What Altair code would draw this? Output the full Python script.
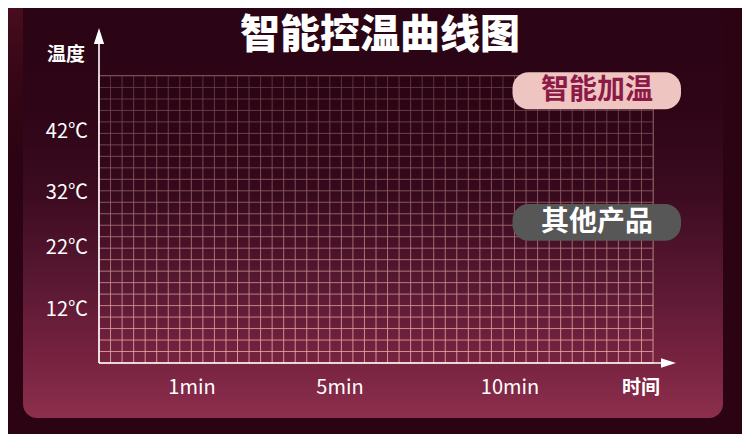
import altair as alt
import pandas as pd

# ---------------- content ----------------
TITLE = "智能控温曲线图"
Y_TITLE = "温度"
X_TITLE = "时间"
TEMP_LABELS = ["42℃", "32℃", "22℃", "12℃"]
TIME_LABELS = ["1min", "5min", "10min"]
SERIES = ["智能加温", "其他产品"]
SERIES_FILL = ["#eec5c1", "#575757"]
SERIES_TEXT = ["#8c1a47", "#ffffff"]
N_COLS = 48
N_ROWS = 25

# ---------------- layout (reference pixels -> grid units) ----------------
PL, PT, PW, PH = 99, 76, 554, 287  # plot area in page pixels


def cx(px):
    return (px - PL) / PW * N_COLS


def cy(py):
    return (PT + PH - py) / PH * N_ROWS


TEMP_POS = [cy(v) for v in (131.7, 192.7, 248.3, 310)]
TIME_POS = [cx(v) for v in (192, 340, 510)]
FONT = "Noto Sans CJK SC"

XS = alt.Scale(domain=[0, N_COLS], nice=False, zero=False)
YS = alt.Scale(domain=[0, N_ROWS], nice=False, zero=False)


def X(f):
    return alt.X(f, type="quantitative", scale=XS, axis=None)


def Y(f):
    return alt.Y(f, type="quantitative", scale=YS, axis=None)


# background panel with vertical gradient
panel_df = pd.DataFrame({"x": [cx(23)], "x2": [cx(723)], "y": [cy(418)], "y2": [cy(-30)]})
panel_grad = alt.Gradient(
    gradient="linear", x1=0, x2=0, y1=0, y2=1,
    stops=[
        alt.GradientStop(color="#2a0414", offset=0),
        alt.GradientStop(color="#2d0516", offset=0.3),
        alt.GradientStop(color="#3c0b20", offset=0.5),
        alt.GradientStop(color="#571731", offset=0.68),
        alt.GradientStop(color="#75223f", offset=0.86),
        alt.GradientStop(color="#8c2f4d", offset=1),
    ],
)
panel = alt.Chart(panel_df).mark_rect(cornerRadius=14, color=panel_grad).encode(
    x=X("x"), x2="x2", y=Y("y"), y2="y2"
)

# top-left glow
glow_df = pd.DataFrame({"x": [cx(8)], "x2": [cx(200)], "y": [cy(150)], "y2": [cy(8)]})
glow_grad = alt.Gradient(
    gradient="radial", x1=0, y1=0, x2=0, y2=0, r1=0, r2=1,
    stops=[
        alt.GradientStop(color="rgba(110,25,45,0.55)", offset=0),
        alt.GradientStop(color="rgba(60,8,25,0)", offset=1),
    ],
)
glow = alt.Chart(glow_df).mark_rect(color=glow_grad).encode(x=X("x"), x2="x2", y=Y("y"), y2="y2")

# grid
vx = pd.DataFrame({"g": list(range(N_COLS + 1))})
hy = pd.DataFrame({"g": list(range(N_ROWS + 1))})
vgrid = alt.Chart(vx).mark_rule(color="#e9aca5", opacity=0.85, strokeWidth=1).encode(x=X("g"))
hgrid = alt.Chart(hy).mark_rule(color="#e9aca5", opacity=0.85, strokeWidth=1).encode(y=Y("g"))

# fade the grid towards the top
fade_df = pd.DataFrame({"x": [0], "x2": [N_COLS], "y": [0], "y2": [N_ROWS]})
fade_grad = alt.Gradient(
    gradient="linear", x1=0, x2=0, y1=0, y2=1,
    stops=[
        alt.GradientStop(color="rgba(42,4,20,0.7)", offset=0),
        alt.GradientStop(color="rgba(48,7,24,0.48)", offset=0.4),
        alt.GradientStop(color="rgba(80,24,48,0.2)", offset=0.75),
        alt.GradientStop(color="rgba(117,34,63,0)", offset=1),
    ],
)
fade = alt.Chart(fade_df).mark_rect(color=fade_grad).encode(x=X("x"), x2="x2", y=Y("y"), y2="y2")

# axes lines + arrows
axes_df = pd.DataFrame({"x": [0, 0], "x2": [0, cx(668)], "y": [0, 0], "y2": [cy(40), 0]})
axes = alt.Chart(axes_df).mark_rule(color="#ffffff", strokeWidth=1.6).encode(
    x=X("x"), x2="x2", y=Y("y"), y2="y2"
)
up_df = pd.DataFrame({"x": [0], "y": [cy(36)]})
up = alt.Chart(up_df).mark_point(
    shape="M-0.64,1L0,-1L0.64,1Z", filled=True, color="#ffffff", opacity=1, size=256
).encode(x=X("x"), y=Y("y"))
right_df = pd.DataFrame({"x": [cx(668.5)], "y": [0]})
right = alt.Chart(right_df).mark_point(
    shape="M-1,-0.62L1,0L-1,0.62Z", filled=True, color="#ffffff", opacity=1, size=225
).encode(x=X("x"), y=Y("y"))

# tick labels
ylab_df = pd.DataFrame({"t": TEMP_LABELS, "x": [cx(88)] * 4, "y": TEMP_POS})
ylab = alt.Chart(ylab_df).mark_text(
    font=FONT, fontSize=20, color="#ffffff", align="right", baseline="middle"
).encode(x=X("x"), y=Y("y"), text="t:N")
xlab_df = pd.DataFrame({"t": TIME_LABELS, "x": TIME_POS, "y": [cy(388)] * 3})
xlab = alt.Chart(xlab_df).mark_text(
    font=FONT, fontSize=20, color="#ffffff", align="center", baseline="middle"
).encode(x=X("x"), y=Y("y"), text="t:N")

# titles
titles_df = pd.DataFrame({
    "t": [Y_TITLE, X_TITLE],
    "x": [cx(66), cx(641)],
    "y": [cy(55), cy(388)],
})
titles = alt.Chart(titles_df).mark_text(
    font=FONT, fontSize=19, fontWeight="bold", color="#ffffff", align="center", baseline="middle"
).encode(x=X("x"), y=Y("y"), text="t:N")

main_df = pd.DataFrame({"t": [TITLE], "x": [cx(380)], "y": [cy(36)]})
main = alt.Chart(main_df).mark_text(
    font=FONT, fontSize=40, fontWeight=900, color="#ffffff", align="center", baseline="middle"
).encode(x=X("x"), y=Y("y"), text="t:N")

# series badges
box_df = pd.DataFrame({
    "s": SERIES,
    "x": [cx(512.5)] * 2,
    "x2": [cx(681)] * 2,
    "y": [cy(109.3), cy(240.7)],
    "y2": [cy(72.3), cy(204)],
    "tx": [cx(597)] * 2,
    "ty": [cy(90.5), cy(222.5)],
})
boxes = alt.Chart(box_df).mark_rect(cornerRadius=16).encode(
    x=X("x"), x2="x2", y=Y("y"), y2="y2",
    color=alt.Color("s:N", scale=alt.Scale(domain=SERIES, range=SERIES_FILL), legend=None),
)
box_text = alt.Chart(box_df).mark_text(
    font=FONT, fontSize=28, fontWeight="bold", align="center", baseline="middle"
).encode(
    x=X("tx"), y=Y("ty"), text="s:N",
    color=alt.Color("s:N", scale=alt.Scale(domain=SERIES, range=SERIES_TEXT), legend=None),
)

TOTAL_W, TOTAL_H = 734, 426
chart = alt.layer(
    glow, panel, vgrid, hgrid, fade, axes, up, right, ylab, xlab, titles, main, boxes, box_text
).resolve_scale(color="independent").properties(
    width=PW,
    height=PH,
    autosize=alt.AutoSizeParams(type="none"),
    padding={
        "left": PL - 8,
        "top": PT - 8,
        "right": TOTAL_W - (PL - 8) - PW,
        "bottom": TOTAL_H - (PT - 8) - PH,
    },
    background="#2b0312",
).configure_view(stroke=None)

chart.save("out.html", embed_options={"renderer": "svg", "actions": False})
